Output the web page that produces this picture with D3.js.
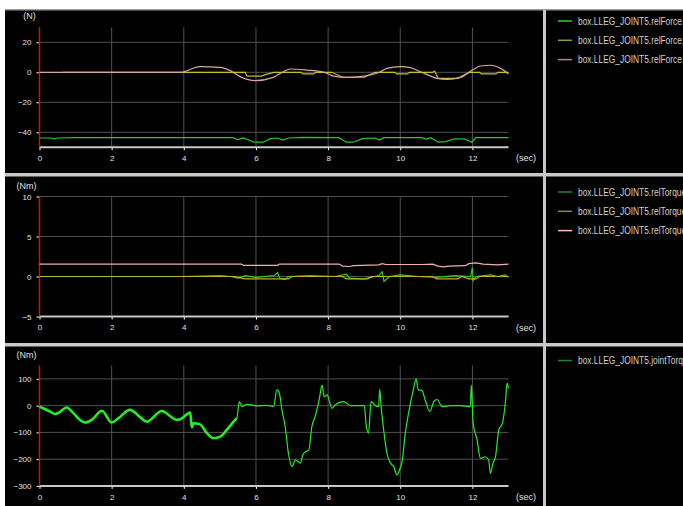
<!DOCTYPE html>
<html>
<head>
<meta charset="utf-8">
<script src="https://cdn.jsdelivr.net/npm/d3@7"></script>
<style>
    body { margin: 0; background: #ffffff; }
    svg { display: block; }
    text { font-family: "Liberation Sans", Arial, sans-serif; }
</style>
</head>
<body>
<div id="chart"></div>
<script>
// Tick labels
const timeTicks = [0, 2, 4, 6, 8, 10, 12];
const forceTicks = [-40, -20, 0, 20];
const relTorqueTicks = [-5, 0, 5, 10];
const jointTorqueTicks = [-300, -200, -100, 0, 100];

// Legend names
const forceNames = ["box.LLEG_JOINT5.relForce.0", "box.LLEG_JOINT5.relForce.1", "box.LLEG_JOINT5.relForce.2"];
const relTorqueNames = ["box.LLEG_JOINT5.relTorque.0", "box.LLEG_JOINT5.relTorque.1", "box.LLEG_JOINT5.relTorque.2"];
const jointTorqueNames = ["box.LLEG_JOINT5.jointTorque"];

// Series values, [time (sec), value]
const relForce0 = [[0, -43.8], [0.3, -43.8], [0.4, -44.4], [0.5, -43.8], [1.0, -43.6], [5.35, -43.6], [5.5, -44.8],
    [5.65, -43.8], [5.95, -46.6], [6.2, -46.6], [6.4, -44.2], [6.6, -43.8], [6.75, -45.2], [6.9, -43.8], [7.3, -43.4],
    [8.3, -43.6], [8.5, -46.6], [8.7, -46.6], [8.95, -44.2], [9.3, -43.8], [9.42, -45.2], [9.55, -43.6], [10.6, -43.6],
    [10.72, -44.5], [10.85, -43.6], [11.05, -46.6], [11.25, -46.2], [11.5, -44.3], [11.8, -44.6], [11.98, -46.6],
    [12.1, -43.6], [13, -43.6]];
const relForce1 = [[0.65, 0], [5.7, 0], [5.75, -2.5], [6.15, -2.5], [6.3, -1.2], [6.5, 0], [7.25, 0], [7.3, -1.1],
    [7.6, -1.1], [7.65, 0], [8.1, 0], [8.4, -3.3], [9.0, -3.3], [9.3, 0], [9.85, 0], [9.9, -1.1], [10.2, -1.1],
    [10.25, 0], [10.9, 0], [10.95, 0.8], [11.05, -4], [11.6, -4], [11.9, 0], [12.2, 0], [12.25, -1.1], [12.65, -1.1],
    [12.7, 0], [13, 0]];
const relForce2 = [[0, 0], [3.9, 0], [4.45, 3.8], [5.0, 3.3], [5.29, 1.1], [5.56, -2.9], [5.98, -5.6], [6.48, -3.4],
    [6.76, 0.4], [6.95, 2.2], [7.41, 1.5], [7.87, 0.2], [8.15, -2.5], [8.52, -3.4], [8.89, -2.9], [9.45, 0.4],
    [9.63, 2.6], [10.0, 3.8], [10.28, 3.1], [10.56, 0.4], [11.02, -4], [11.3, -4.7], [11.67, -3.4], [12.0, 1.5],
    [12.22, 4.2], [12.5, 4.7], [12.78, 2.6], [13, -1.1]];

const relTorque0 = [[3.9, 0], [4.5, 0.05], [5.0, 0.1], [5.3, 0], [5.5, -0.2], [5.7, 0.1], [6.0, -0.1], [6.5, 0.1],
    [6.6, 0.5], [6.65, -0.2], [6.8, -0.4], [6.9, 0], [7.5, 0.1], [8.2, 0], [8.5, 0.3], [8.6, -0.2], [9.0, -0.3],
    [9.4, 0.1], [9.5, 0.6], [9.55, -0.6], [9.7, 0], [10.0, 0.2], [10.5, 0], [11.0, -0.1], [11.5, 0.1], [11.95, 0],
    [12.0, 1.1], [12.02, -0.5], [12.1, 0], [12.5, 0.2], [12.7, 0], [12.9, 0.2], [13, -0.1]];
const relTorque1 = [[0, 0], [5.4, 0], [5.5, -0.1], [5.7, -0.3], [6.9, -0.3], [7.0, 0], [8.4, 0], [8.5, -0.3],
    [9.1, -0.3], [9.2, 0], [10.9, 0], [11.0, -0.3], [11.6, -0.3], [11.7, 0], [11.9, -0.3], [12.1, -0.3], [12.2, 0],
    [13, 0]];
const relTorque2 = [[0, 1.55], [5.6, 1.55], [5.65, 1.4], [6.6, 1.4], [6.65, 1.55], [8.3, 1.55], [8.4, 1.3],
    [8.6, 1.25], [8.7, 1.35], [9.4, 1.45], [9.5, 1.6], [9.6, 1.5], [10.6, 1.5], [10.9, 1.55], [11.05, 1.3],
    [11.2, 1.2], [11.35, 1.3], [11.8, 1.35], [11.9, 1.6], [12.1, 1.7], [12.3, 1.55], [12.7, 1.45], [13, 1.55]];

const jointTorque = [[0, -4], [0.1, -10], [0.29, -22], [0.43, -31], [0.55, -25], [0.75, -7], [0.94, -28],
    [1.12, -53], [1.26, -63], [1.45, -53], [1.73, -19], [2.0, -63], [2.19, -47], [2.51, -16], [2.79, -43],
    [2.97, -60], [3.39, -20], [3.8, -53], [3.9, -51], [4.18, -26], [4.22, -81], [4.27, -66], [4.45, -70],
    [4.64, -103], [4.82, -122], [5.01, -116], [5.19, -91], [5.38, -60], [5.47, -47], [5.54, 15], [5.61, -4],
    [5.75, 5], [6.03, -1], [6.3, 1], [6.49, -3], [6.58, 59], [6.65, 46], [6.72, -16], [6.81, -78], [6.9, -178],
    [7.0, -228], [7.09, -203], [7.23, -215], [7.3, -184], [7.37, -172], [7.46, -168], [7.55, -78], [7.64, -41],
    [7.76, 28], [7.83, 77], [7.89, 34], [7.97, 40], [8.11, -10], [8.2, 3], [8.43, 15], [8.62, 0], [9.0, 0],
    [9.06, -78], [9.12, -103], [9.19, 15], [9.31, 0], [9.4, -4], [9.43, 61], [9.47, -4], [9.54, -91], [9.63, -178],
    [9.73, -215], [9.82, -228], [9.91, -259], [9.98, -240], [10.05, -209], [10.14, -103], [10.23, -28], [10.35, 52],
    [10.44, 99], [10.5, 59], [10.6, 57], [10.69, 21], [10.82, -22], [10.93, 15], [11.02, 23], [11.16, -4],
    [11.39, 0], [11.67, 0], [11.94, -4], [11.97, 77], [12.02, -66], [12.13, -128], [12.22, -197], [12.36, -191],
    [12.45, -203], [12.5, -253], [12.57, -215], [12.64, -191], [12.73, -91], [12.83, -66], [12.92, 21], [12.96, 84],
    [13.0, 65]];

const width = 683;
const height = 506;

const svg = d3.select('#chart').append('svg')
    .attr('width', width)
    .attr('height', height);

// black background of the whole viewer, with grey separators
svg.append('rect').attr('x', 5).attr('y', 9).attr('width', width - 5).attr('height', height - 9).attr('fill', '#000000');
svg.append('rect').attr('x', 5).attr('y', 9).attr('width', width - 5).attr('height', 1.5).attr('fill', '#9a9a9a');
svg.append('rect').attr('x', 5).attr('y', 173).attr('width', width - 5).attr('height', 3.5).attr('fill', '#c8c8c8');
svg.append('rect').attr('x', 5).attr('y', 343).attr('width', width - 5).attr('height', 3.5).attr('fill', '#c8c8c8');
svg.append('rect').attr('x', 543).attr('y', 10).attr('width', 3).attr('height', height - 10).attr('fill', '#c8c8c8');

// shared time scale
const x = d3.scaleLinear().domain([0, 13]).range([39.5, 508.5]);

const panels = [
    {
        unit: '(N)', domain: [-50, 30], range: [147.3, 27.3], ticks: forceTicks, legendY: 21,
        series: [
            { name: forceNames[0], data: relForce0, color: '#22cc22', legend: '#22dd22' },
            { name: forceNames[1], data: relForce1, color: '#c8c020', legend: '#999933' },
            { name: forceNames[2], data: relForce2, color: '#d8a8a0', legend: '#aa8888', smooth: true }
        ]
    },
    {
        unit: '(Nm)', domain: [-5, 10], range: [316.5, 196.5], ticks: relTorqueTicks, legendY: 192,
        series: [
            { name: relTorqueNames[0], data: relTorque0, color: '#33cc22', legend: '#228822' },
            { name: relTorqueNames[1], data: relTorque1, color: '#b8b820', legend: '#888844' },
            { name: relTorqueNames[2], data: relTorque2, color: '#f0b0b0', legend: '#ffbbbb' }
        ]
    },
    {
        unit: '(Nm)', domain: [-300, 150], range: [485.9, 365.5], ticks: jointTorqueTicks, legendY: 360.5,
        series: [
            { name: jointTorqueNames[0], data: jointTorque, color: '#22ee22', legend: '#228822', smooth: true, thickUntil: 5.5 }
        ]
    }
];

panels.forEach(drawPanel);

// Function to draw one graph panel with its legend
function drawPanel(p) {
    const y = d3.scaleLinear().domain(p.domain).range(p.range);
    const g = svg.append('g');
    const bottom = p.range[0];
    const top = p.range[1];

    // grid
    g.selectAll('.vgrid').data(timeTicks).enter().append('line')
        .attr('x1', d => x(d)).attr('x2', d => x(d))
        .attr('y1', top).attr('y2', bottom)
        .attr('stroke', '#505050').attr('stroke-width', 1);
    g.selectAll('.hgrid').data(p.ticks).enter().append('line')
        .attr('x1', x(0)).attr('x2', x(13))
        .attr('y1', d => y(d)).attr('y2', d => y(d))
        .attr('stroke', '#505050').attr('stroke-width', 1);

    // y axis
    const yAxis = d3.axisLeft(y).tickValues(p.ticks).tickSize(3).tickPadding(5);
    const ya = g.append('g').attr('transform', `translate(${x(0)},0)`).call(yAxis);
    ya.select('.domain').remove();
    ya.selectAll('line').attr('stroke', '#ffffff');
    ya.selectAll('text').attr('fill', '#e0e0e0').style('font-size', '8px');

    // x axis
    const xAxis = d3.axisBottom(x).tickValues(timeTicks).tickSize(3).tickPadding(5).tickFormat(d3.format('d'));
    const xa = g.append('g').attr('transform', `translate(0,${bottom})`).call(xAxis);
    xa.select('.domain').remove();
    xa.selectAll('line').attr('stroke', '#ffffff');
    xa.selectAll('text').attr('fill', '#e0e0e0').style('font-size', '8px');
    g.append('line')
        .attr('x1', x(0)).attr('x2', x(13))
        .attr('y1', bottom).attr('y2', bottom)
        .attr('stroke', '#c8c8c8').attr('stroke-width', 2);
    g.append('line')
        .attr('x1', x(0)).attr('x2', x(0))
        .attr('y1', top).attr('y2', bottom)
        .attr('stroke', '#cc1010').attr('stroke-width', 1.5);

    g.append('text').attr('x', 526).attr('y', bottom + 14)
        .attr('text-anchor', 'middle').attr('fill', '#e0e0e0').style('font-size', '9px').text('(sec)');
    g.append('text').attr('x', p.unit === '(N)' ? 29.5 : 26.5).attr('y', top - 8)
        .attr('text-anchor', 'middle').attr('fill', '#e0e0e0').style('font-size', '9px').text(p.unit);

    // lines
    p.series.forEach(s => {
        const line = d3.line().x(d => x(d[0])).y(d => y(d[1]))
            .curve(s.smooth ? d3.curveMonotoneX : d3.curveLinear);
        g.append('path').datum(s.data)
            .attr('d', line)
            .attr('fill', 'none')
            .attr('stroke', s.color)
            .attr('stroke-width', 1.2);
        if (s.thickUntil) {
            g.append('path').datum(s.data.filter(d => d[0] <= s.thickUntil))
                .attr('d', line)
                .attr('fill', 'none')
                .attr('stroke', s.color)
                .attr('stroke-width', 2.6);
        }
    });

    // legend (narrow text, cut at the window edge like the viewer)
    const leg = svg.append('g');
    p.series.forEach((s, i) => {
        const ly = p.legendY + i * 19.3;
        leg.append('line')
            .attr('x1', 558).attr('x2', 572).attr('y1', ly).attr('y2', ly)
            .attr('stroke', s.legend).attr('stroke-width', 1.5);
        leg.append('text')
            .attr('transform', `translate(578,${ly + 3.5}) scale(0.84,1)`)
            .attr('fill', '#d0d0d0').style('font-size', '10px')
            .text(s.name);
    });
}
</script>
</body>
</html>
